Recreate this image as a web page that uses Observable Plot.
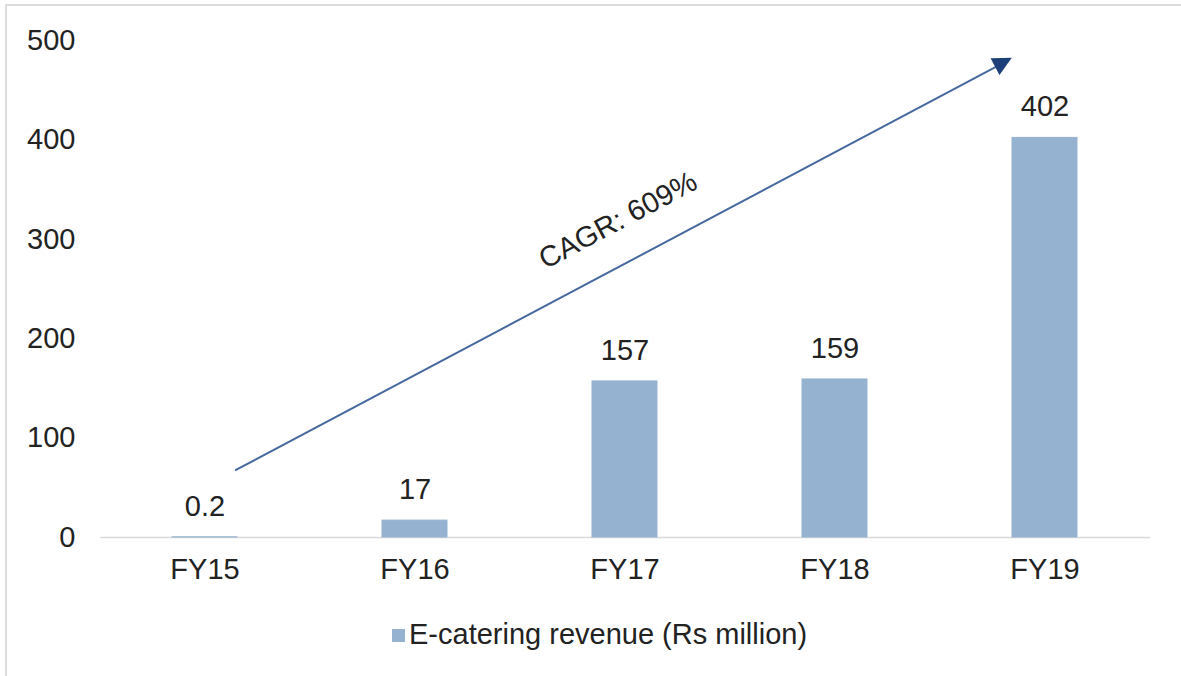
<!DOCTYPE html>
<html>
<head>
<meta charset="utf-8">
<script src="https://cdn.jsdelivr.net/npm/d3@7"></script>
<script src="https://cdn.jsdelivr.net/npm/@observablehq/plot@0.6"></script>
<style>
  html, body { margin: 0; padding: 0; background: #fff; }
  body { width: 1181px; height: 676px; position: relative; overflow: hidden; font-family: "Liberation Sans", Arial, sans-serif; }
  #frame { position: absolute; left: 5px; top: 4px; width: 1300px; height: 800px; border-left: 2px solid #dcdcdc; border-top: 2px solid #dcdcdc; }
  #chart { position: absolute; left: 0; top: 0; }
  #legend { position: absolute; left: 392px; top: 617px; display: flex; align-items: center; font-size: 29px; line-height: 34px; color: #222; white-space: nowrap; }
  #legend .sw { width: 13px; height: 13px; background: #95b3d0; margin-right: 4px; margin-top: 3px; }
</style>
</head>
<body>
<div id="frame"></div>
<div id="chart"></div>
<div id="legend"><span class="sw"></span><span id="legendText"></span></div>
<script>
const categories = ["FY15", "FY16", "FY17", "FY18", "FY19"];
const revenue = [0.2, 17, 157, 159, 402];
const valueLabels = ["0.2", "17", "157", "159", "402"];
const yTicks = [0, 100, 200, 300, 400, 500];
const seriesName = "E-catering revenue (Rs million)";
const cagrText = ["CAGR: 609%"];
const cagrAt = ["FY17", 319];
const arrowFrom = ["FY15", 51.5];
const arrowTo = ["FY19", 499.6];

const data = categories.map((c, i) => ({cat: c, value: revenue[i], label: valueLabels[i]}));
const arrowData = [{x1: arrowFrom[0], y1: arrowFrom[1], x2: arrowTo[0], y2: arrowTo[1]}];
const cagrData = cagrText.map(t => ({x: cagrAt[0], y: cagrAt[1], text: t}));

const insetStart = 35, insetEnd = 37, headLen = 19, headHalf = 9.5;

function arrowHead(index, scales, values, dimensions, context) {
  const bw = scales.x.bandwidth ? (typeof scales.x.bandwidth === "function" ? scales.x.bandwidth() : scales.x.bandwidth) : 0;
  const xa = scales.x(arrowFrom[0]) + bw / 2, ya = scales.y(arrowFrom[1]);
  const xb = scales.x(arrowTo[0]) + bw / 2, yb = scales.y(arrowTo[1]);
  const len = Math.hypot(xb - xa, yb - ya);
  const ux = (xb - xa) / len, uy = (yb - ya) / len;
  const tx = xb - ux * insetEnd, ty = yb - uy * insetEnd;
  const bx = tx - ux * headLen, by = ty - uy * headLen;
  const px = -uy, py = ux;
  const pts = [[tx, ty], [bx + px * headHalf, by + py * headHalf], [bx - px * headHalf, by - py * headHalf]];
  const g = d3.create("svg:polygon")
    .attr("points", pts.map(p => p.join(",")).join(" "))
    .attr("fill", "#1d3f7a");
  return g.node();
}

const chart = Plot.plot({
  width: 1181,
  height: 600,
  marginLeft: 100,
  marginRight: 31,
  marginTop: 40,
  marginBottom: 63,
  style: {fontFamily: "'Liberation Sans', Arial, sans-serif", fontSize: "29px", color: "#222", background: "transparent", overflow: "visible"},
  x: {domain: categories, paddingInner: 0.69, paddingOuter: 0.345, label: null, tickSize: 0, tickPadding: 21},
  y: {domain: [0, 500], ticks: yTicks, label: null, tickSize: 0, tickPadding: 25},
  marks: [
    Plot.ruleY([0], {stroke: "#d9d9d9", strokeWidth: 1.5}),
    Plot.barY(data, {x: "cat", y: "value", fill: "#95b3d0", stroke: "#95b3d0", strokeWidth: 1}),
    Plot.text(data, {x: "cat", y: "value", text: "label", dy: -31, fontSize: 29, fill: "#222"}),
    Plot.arrow(arrowData, {x1: "x1", y1: "y1", x2: "x2", y2: "y2", insetStart: insetStart, insetEnd: insetEnd + headLen - 2, headLength: 0, stroke: "#45689f", strokeWidth: 2}),
    arrowHead,
    Plot.text(cagrData, {x: "x", y: "y", text: "text", dx: -7, rotate: -28, fontSize: 29, fill: "#222"})
  ]
});
document.getElementById("chart").append(chart);
document.getElementById("legendText").textContent = seriesName;
</script>
</body>
</html>
